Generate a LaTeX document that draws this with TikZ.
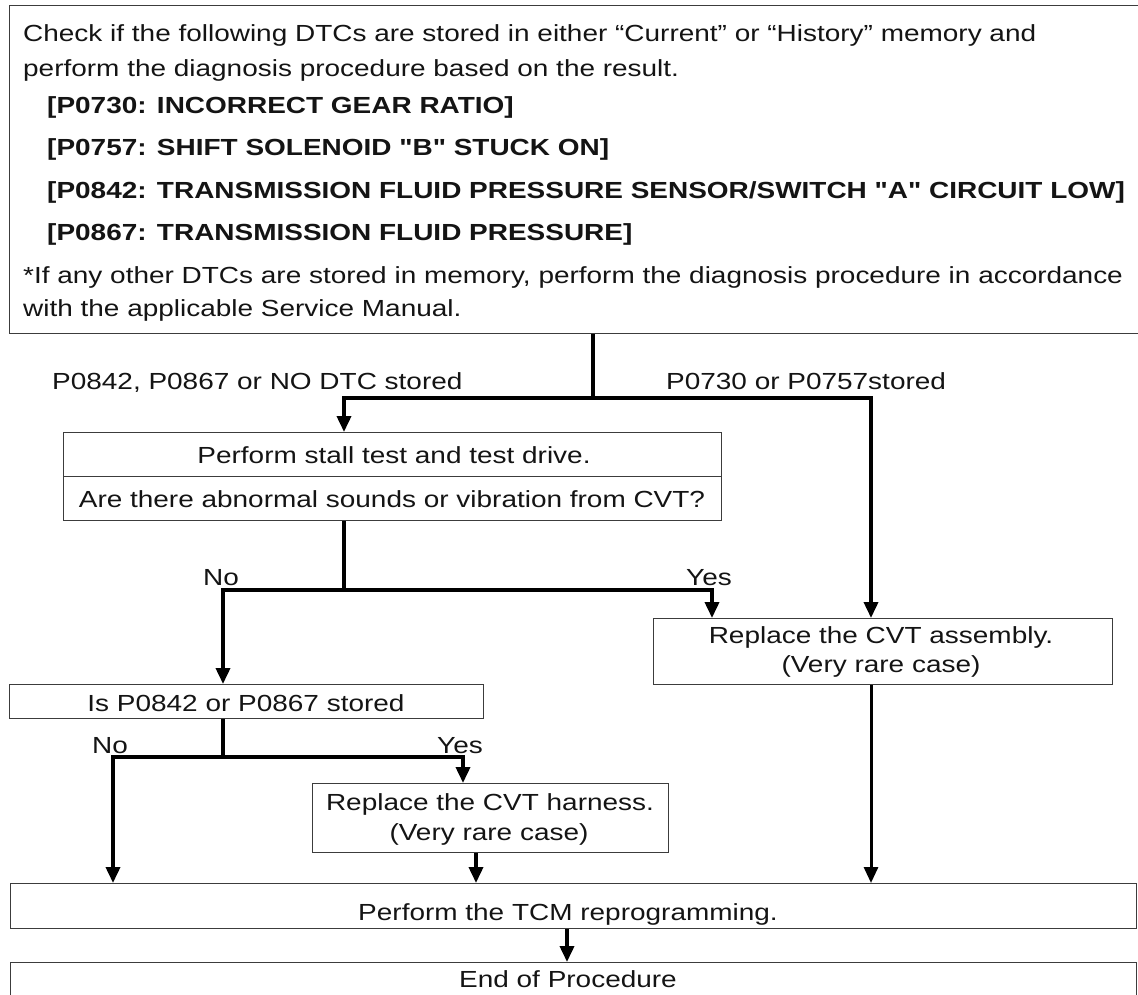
\documentclass[tikz,border=0pt]{standalone}
\usepackage{fontspec}
\setmainfont{Liberation Sans}[FakeStretch=1.2,Ligatures=TeXOff]
\usetikzlibrary{arrows.meta}
\definecolor{ink}{HTML}{141414}
\definecolor{edge}{HTML}{3C3C3C}
\begin{document}
\begin{tikzpicture}[x=1pt,y=-1pt,
  every node/.style={text=ink,font=\fontsize{23.3}{29}\selectfont},
  box/.style={draw=edge,line width=1.4pt,inner sep=0pt,anchor=north west},
  tl/.style={inner sep=0pt,anchor=base west},
  tb/.style={tl,font=\fontsize{23.3}{29}\selectfont\bfseries},
  tc/.style={inner sep=0pt,anchor=base},
  conn/.style={draw=black,line width=3.6pt,line join=miter},
  arr/.style={conn,-{Triangle[width=14pt,length=16pt]}}]
\useasboundingbox (0,0) rectangle (1138,994);
\fill[white] (0,0) rectangle (1138,994);

% header box
\node[box,minimum width=1140pt,minimum height=328pt] (head) at (9,5) {};
\node[tl] (h1) at (23,41.5) {Check if the following DTCs are stored in either “Current” or “History” memory and};
\node[tl] (h2) at (23,76) {perform the diagnosis procedure based on the result.};
\node[tb] (h3) at (47,113) {[P0730: INCORRECT GEAR RATIO]};
\node[tb] (h4) at (47,155.5) {[P0757: SHIFT SOLENOID "B" STUCK ON]};
\node[tb] (h5) at (47,198) {[P0842: TRANSMISSION FLUID PRESSURE SENSOR/SWITCH "A" CIRCUIT LOW]};
\node[tb] (h6) at (47,240) {[P0867: TRANSMISSION FLUID PRESSURE]};
\node[tl] (h7) at (23,283) {*If any other DTCs are stored in memory, perform the diagnosis procedure in accordance};
\node[tl] (h8) at (23,316) {with the applicable Service Manual.};

% boxes
\node[box,minimum width=658pt,minimum height=44pt] (stallA) at (63,432) {};
\node[box,minimum width=658pt,minimum height=44pt] (stallB) at (63,476) {};
\node[tc] (stallAt) at (394,463) {Perform stall test and test drive.};
\node[tc] (stallBt) at (392,507) {Are there abnormal sounds or vibration from CVT?};

\node[box,minimum width=459pt,minimum height=66pt] (cvt) at (653,618) {};
\node[tc] (cvt1) at (881,643) {Replace the CVT assembly.};
\node[tc] (cvt2) at (881,672) {(Very rare case)};

\node[box,minimum width=474pt,minimum height=34pt] (isp) at (9,684) {};
\node[tc] (ispt) at (246,711) {Is P0842 or P0867 stored};

\node[box,minimum width=356pt,minimum height=69pt] (harn) at (312,783) {};
\node[tc] (harn1) at (490,810) {Replace the CVT harness.};
\node[tc] (harn2) at (489,840) {(Very rare case)};

\node[box,minimum width=1126pt,minimum height=45pt] (tcm) at (10,883) {};
\node[tc] (tcmt) at (568,920) {Perform the TCM reprogramming.};

\node[box,minimum width=1126pt,minimum height=45pt] (endp) at (10,962) {};
\node[tc] (endt) at (568,987) {End of Procedure};

% branch labels
\node[tl] (l1) at (52,389) {P0842, P0867 or NO DTC stored};
\node[tl] (l2) at (666,389) {P0730 or P0757stored};
\node[tl] (l3) at (203,585) {No};
\node[tl] (l4) at (686,585) {Yes};
\node[tl] (l5) at (92,753) {No};
\node[tl] (l6) at (437,753) {Yes};

% junction coordinates
\coordinate (j1) at (593,398);
\coordinate (j1l) at (344,398);
\coordinate (j1r) at (871,398);
\coordinate (j2) at (344,590);
\coordinate (j2l) at (223,590);
\coordinate (j2r) at (712,590);
\coordinate (j3) at (223,757);
\coordinate (j3l) at (113,757);
\coordinate (j3r) at (463,757);
\coordinate (c4) at (476,0);
\coordinate (c5) at (567,0);

% connectors
\draw[conn,line width=4.2pt] (head.south -| j1) -- (j1);
\draw[arr] (j1) -- (j1l) -- (stallA.north -| j1l);
\draw[arr] (j1) -- (j1r) -- (cvt.north -| j1r);
\draw[conn] (stallB.south -| j2) -- (j2);
\draw[arr] (j2) -- (j2l) -- (isp.north -| j2l);
\draw[arr] (j2) -- (j2r) -- (cvt.north -| j2r);
\draw[conn] (isp.south -| j3) -- (j3);
\draw[arr] (j3) -- (j3l) -- (tcm.north -| j3l);
\draw[arr] (j3) -- (j3r) -- (harn.north -| j3r);
\draw[arr] (harn.south -| c4) -- (tcm.north -| c4);
\draw[arr,line width=3pt] (cvt.south -| j1r) -- (tcm.north -| j1r);
\draw[arr] (tcm.south -| c5) -- (endp.north -| c5);
\end{tikzpicture}
\end{document}
